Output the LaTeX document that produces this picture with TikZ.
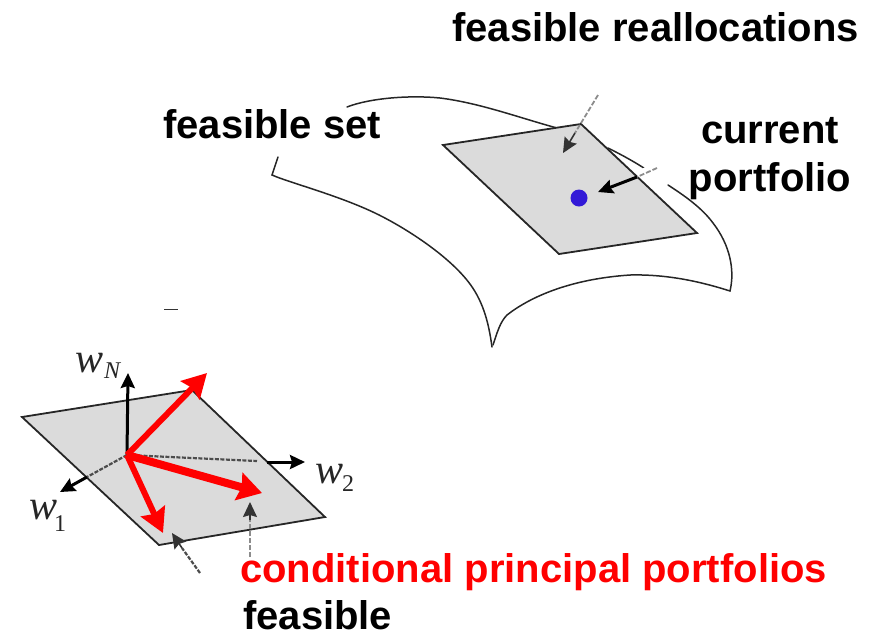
\documentclass[tikz,border=0pt]{standalone}
\usepackage{fontspec}
\setmainfont{Liberation Sans}
\newfontfamily\axisfont{Liberation Serif}
\usetikzlibrary{arrows.meta}
\definecolor{planegray}{RGB}{219,219,219}
\definecolor{dotblue}{RGB}{50,25,215}
\tikzset{
  x=1pt,y=-1pt,
  lbl/.style={font=\fontsize{40}{42}\selectfont\bfseries,text=black,anchor=base west,inner sep=0pt},
  redlbl/.style={lbl,text=red},
  axlbl/.style={font=\axisfont\itshape\fontsize{42}{44}\selectfont,text=black!85,anchor=base west,inner sep=0pt},
  sublbl/.style={font=\axisfont\itshape\fontsize{24}{26}\selectfont,text=black!85,anchor=base west,inner sep=0pt},
  subnum/.style={font=\axisfont\fontsize{24}{26}\selectfont,text=black!85,anchor=base west,inner sep=0pt},
  plane/.style={fill=planegray,draw=black!85,line width=1.8pt,line join=miter},
  surface/.style={draw=black!85,line width=1.5pt,line cap=round},
  blackarrow/.style={draw=black,line width=3pt,-{Stealth[length=15pt,width=14pt,inset=2pt]}},
  thinarrow/.style={draw=black!80,line width=1.6pt,-{Stealth[length=15pt,width=14pt,inset=2pt]}},
  dashgray/.style={draw=black!45,line width=1.8pt,dash pattern=on 5pt off 2pt},
  dashdark/.style={draw=black!70,line width=2.2pt,dash pattern=on 4pt off 1.5pt},
  redarrow/.style={draw=red,line width=6pt,-{Stealth[length=24pt,width=26pt,inset=3pt]}},
  redfat/.style={draw=red,line width=8pt,-{Stealth[length=24pt,width=28pt,inset=3pt]}},
}
\begin{document}
\begin{tikzpicture}
\useasboundingbox (0,0) rectangle (880,633);
% surface
\draw[surface] (278,157) -- (272,175) .. controls (290,183) and (345,197) .. (383,217)
  .. controls (410,231) and (450,257) .. (470,284) .. controls (484,303) and (489,325) .. (492,347);
\draw[surface] (347,107) .. controls (370,98) and (410,95) .. (440,98)
  .. controls (480,103) and (520,118) .. (557,128);
\draw[surface] (493,345) .. controls (497,333) and (500,322) .. (507,315)
  .. controls (530,297) and (570,279) .. (630,275) .. controls (670,274) and (705,283) .. (730,291)
  .. controls (735,270) and (730,245) .. (713,223) .. controls (702,208) and (685,196) .. (668,185);
\coordinate (bigA) at (443,145);
\coordinate (bigB) at (581,124);
\coordinate (bigC) at (697,233);
\coordinate (bigD) at (559,254);
\draw[plane] (bigA) -- (bigB) -- (bigC) -- (bigD) -- cycle;
\draw[surface] (608,148) .. controls (622,155) and (635,162) .. (650,172);
\fill[white] (642,169) -- (660,158) -- (662,182) -- (655,184) -- cycle;
\node[circle,fill=dotblue,minimum size=17pt,inner sep=0pt] (dot) at (579,198) {};
% arrows of the upper sheet
\coordinate (reallocFrom) at (598,95);
\coordinate (reallocTip) at (563,153);
\coordinate (reallocMid) at (575,133);
\draw[dashgray] (reallocFrom) -- (reallocMid);
\draw[thinarrow] (reallocMid) -- (reallocTip);
\coordinate (currFrom) at (657,168);
\coordinate (currMid) at (637,177);
\coordinate (currTip) at (598,192);
\draw[dashgray] (currFrom) -- (currMid);
\draw[blackarrow] (currMid) -- (currTip);
% fragment
\coordinate (fragA) at (164,309);
\coordinate (fragB) at (178,309);
\draw[draw=black!80,line width=1pt] (fragA) -- (fragB);
% small parallelogram
\coordinate (smA) at (22,417);
\coordinate (smB) at (192,390);
\coordinate (smC) at (325,517);
\coordinate (smD) at (159,545);
\coordinate (org) at (127,455);
\coordinate (wNtip) at (128,373);
\coordinate (wTwoDash) at (257,461);
\coordinate (wTwoFrom) at (267,462);
\coordinate (wTwoTip) at (305,462);
\coordinate (wOneDash) at (87,477);
\coordinate (wOneTip) at (60,492);
\draw[plane] (smA) -- (smB) -- (smC) -- (smD) -- cycle;
\draw[blackarrow] (org) -- (wNtip);
\draw[dashdark] (org) -- (wTwoDash);
\draw[blackarrow] (wTwoFrom) -- (wTwoTip);
\draw[dashdark] (org) -- (wOneDash);
\draw[blackarrow] (wOneDash) -- (wOneTip);
\coordinate (redA) at (207,373);
\coordinate (redB) at (262,493);
\coordinate (redC) at (163,533);
\draw[redarrow] (org) -- (redA);
\draw[redfat] (org) -- (redB);
\draw[redarrow] (org) -- (redC);
% pointers of the lower sheet
\coordinate (ptrAfrom) at (250,557);
\coordinate (ptrAmid) at (250,520);
\coordinate (ptrAtip) at (250,502);
\draw[dashgray] (ptrAfrom) -- (ptrAmid);
\draw[thinarrow] (ptrAmid) -- (ptrAtip);
\coordinate (ptrBfrom) at (200,573);
\coordinate (ptrBmid) at (182,548);
\coordinate (ptrBtip) at (172,533);
\draw[dashdark] (ptrBfrom) -- (ptrBmid);
\draw[thinarrow] (ptrBmid) -- (ptrBtip);
% labels
\node[lbl] (t1) at (452,41) {feasible reallocations};
\node[lbl] (t2) at (163,138) {feasible set};
\node[lbl,anchor=base] (t3) at (770,143) {current};
\node[lbl,anchor=base] (t4) at (770,191) {portfolio};
\node[redlbl] (t5) at (240,582) {conditional principal portfolios};
\node[lbl] (t6) at (243,629) {feasible};
\node[axlbl] (a1) at (75,372) {w};
\node[sublbl] (a1s) at (104,378) {N};
\node[axlbl] (a2) at (315,483) {w};
\node[subnum] (a2s) at (342,491) {2};
\node[axlbl] (a3) at (29,519) {w};
\node[subnum] (a3s) at (54,531) {1};
\end{tikzpicture}
\end{document}
